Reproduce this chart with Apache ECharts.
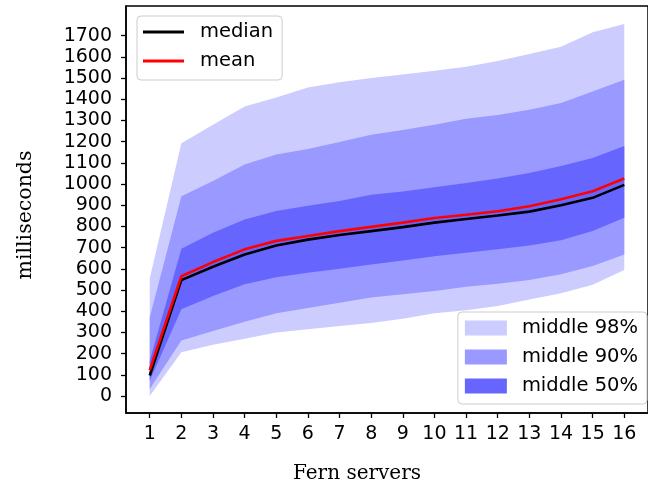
<!DOCTYPE html>
<html>
<head>
<meta charset="utf-8">
<script src="https://cdn.jsdelivr.net/npm/echarts@6/dist/echarts.min.js"></script>
<style>html,body{margin:0;padding:0;background:#fff}#c{width:648px;height:487px}</style>
</head>
<body>
<div id="c"></div>
<script>
const servers = [1,2,3,4,5,6,7,8,9,10,11,12,13,14,15,16];
const p01 = [0, 206, 242, 270, 300, 315, 330, 345, 365, 390, 405, 425, 455, 485, 525, 595];
const p99 = [555, 1192, 1280, 1366, 1408, 1455, 1480, 1500, 1517, 1535, 1554, 1581, 1614, 1648, 1716, 1755];
const p05 = [33, 262, 307, 350, 390, 415, 440, 465, 480, 496, 515, 530, 548, 574, 613, 668];
const p95 = [370, 943, 1015, 1092, 1139, 1165, 1198, 1233, 1255, 1280, 1308, 1326, 1350, 1382, 1437, 1492];
const p25 = [72, 409, 472, 527, 560, 582, 600, 620, 640, 660, 676, 692, 710, 735, 778, 841];
const p75 = [165, 695, 770, 833, 873, 898, 920, 950, 965, 985, 1005, 1026, 1052, 1085, 1123, 1180];
const median = [97, 547, 610, 668, 710, 738, 760, 778, 797, 818, 835, 852, 870, 900, 935, 996];
const mean = [122, 565, 632, 692, 732, 755, 778, 798, 818, 840, 855, 872, 895, 928, 966, 1026];
const yTicks = [0,100,200,300,400,500,600,700,800,900,1000,1100,1200,1300,1400,1500,1600,1700];
const xTicks = servers;

const pair = (arr) => servers.map((x, i) => [x, arr[i]]);

// One filled polygon per band: upper edge forward, lower edge backward
function band(name, lo, hi, color) {
  return {
    type: 'custom', name: name, silent: true, z: 1,
    data: servers.map((x, i) => [x, lo[i], hi[i]]),
    encode: { x: 0, y: [1, 2] },
    itemStyle: { color: color },
    renderItem: function (params, api) {
      if (params.dataIndex !== 0) return null;
      const pts = [];
      for (let i = 0; i < servers.length; i++) pts.push(api.coord([servers[i], hi[i]]));
      for (let i = servers.length - 1; i >= 0; i--) pts.push(api.coord([servers[i], lo[i]]));
      return { type: 'polygon', shape: { points: pts }, style: { fill: color } };
    }
  };
}

const tickFont = { fontFamily: 'DejaVu Sans', fontSize: 19, color: '#000' };
const legendText = { fontFamily: 'DejaVu Sans', fontSize: 19.5, color: '#000', lineHeight: 20 };

const chart = echarts.init(document.getElementById('c'), null, { renderer: 'canvas' });
chart.setOption({
  animation: false,
  backgroundColor: '#fff',
  grid: { left: 126, top: 6, width: 532, height: 407, show: true, borderColor: '#000', borderWidth: 1.5, backgroundColor: 'transparent', z: 20 },
  xAxis: {
    type: 'value', min: 0.25, max: 16.75, z: 20,
    axisLine: { show: true, onZero: false, lineStyle: { color: '#000', width: 1.5 } },
    axisTick: { show: true, length: 5, lineStyle: { color: '#000', width: 1.3 }, customValues: xTicks },
    axisLabel: { ...tickFont, margin: 12, customValues: xTicks, formatter: v => String(v) },
    splitLine: { show: false }
  },
  yAxis: {
    type: 'value', min: -80, max: 1840, z: 20,
    axisLine: { show: true, onZero: false, lineStyle: { color: '#000', width: 1.5 } },
    axisTick: { show: true, length: 5, lineStyle: { color: '#000', width: 1.3 }, customValues: yTicks },
    axisLabel: { ...tickFont, margin: 14, customValues: yTicks, formatter: v => String(v) },
    splitLine: { show: false }
  },
  legend: [
    {
      left: 137, top: 16, orient: 'vertical', z: 30,
      padding: [6, 9, 9, 6], itemGap: 9, itemWidth: 41, itemHeight: 3,
      backgroundColor: 'rgba(255,255,255,0.8)', borderColor: '#cccccc', borderWidth: 1, borderRadius: 4,
      textStyle: { ...legendText, padding: [0, 0, 0, 11] },
      selectedMode: false,
      data: [
        { name: 'median', icon: 'rect', itemStyle: { color: '#000' } },
        { name: 'mean', icon: 'rect', itemStyle: { color: '#ff0000' } }
      ]
    },
    {
      right: 1, top: 312, orient: 'vertical', z: 30,
      padding: [6, 9, 8, 7], itemGap: 9, itemWidth: 42, itemHeight: 15,
      backgroundColor: 'rgba(255,255,255,0.8)', borderColor: '#cccccc', borderWidth: 1, borderRadius: 4,
      textStyle: { ...legendText, padding: [0, 0, 0, 10] },
      selectedMode: false,
      data: [
        { name: 'middle 98%', icon: 'rect', itemStyle: { color: '#ccccff' } },
        { name: 'middle 90%', icon: 'rect', itemStyle: { color: '#9999ff' } },
        { name: 'middle 50%', icon: 'rect', itemStyle: { color: '#6666ff' } }
      ]
    }
  ],
  graphic: [
    { type: 'text', x: 357, y: 474, style: { text: 'Fern servers', font: '20px "DejaVu Serif"', fill: '#000', textAlign: 'center', textVerticalAlign: 'middle' } },
    { type: 'text', x: 26, y: 215, rotation: Math.PI / 2, style: { text: 'milliseconds', font: '20.5px "DejaVu Serif"', fill: '#000', textAlign: 'center', textVerticalAlign: 'middle' } }
  ],
  series: [
    band('middle 98%', p01, p99, '#ccccff'),
    band('middle 90%', p05, p95, '#9999ff'),
    band('middle 50%', p25, p75, '#6666ff'),
    { type: 'line', name: 'median', data: pair(median), symbol: 'none', lineStyle: { color: '#000', width: 2.6 }, itemStyle: { color: '#000' }, z: 3 },
    { type: 'line', name: 'mean', data: pair(mean), symbol: 'none', lineStyle: { color: '#ff0000', width: 2.6 }, itemStyle: { color: '#ff0000' }, z: 3 }
  ]
});
</script>
</body>
</html>
